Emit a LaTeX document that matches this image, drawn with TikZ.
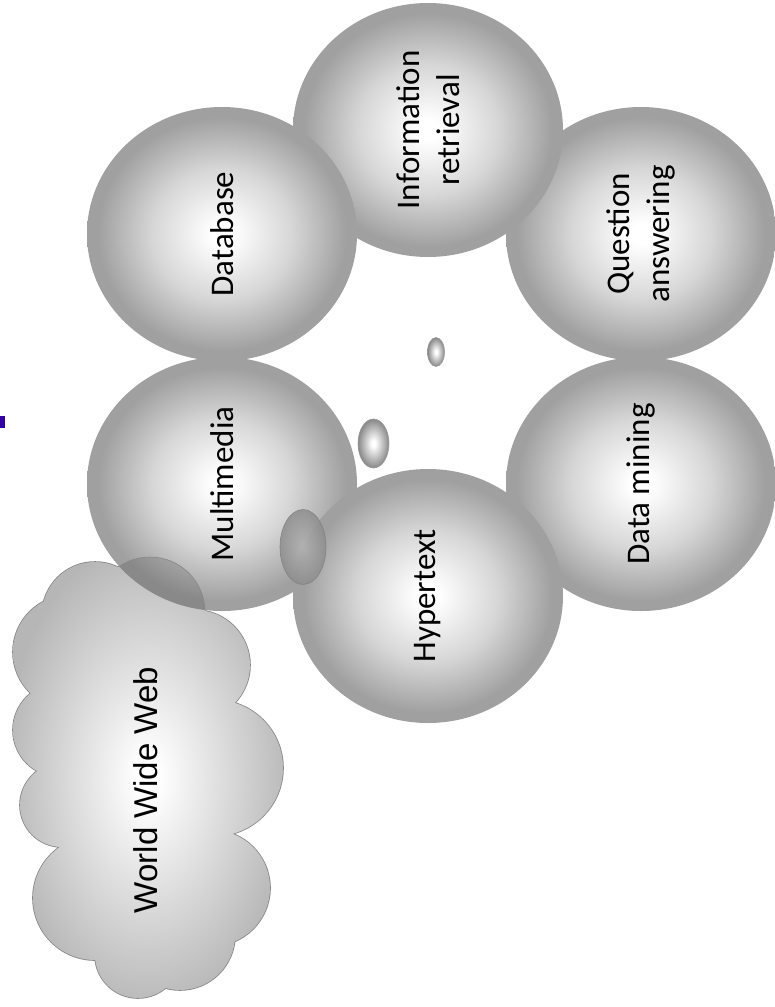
\documentclass[tikz,border=0pt]{standalone}
\usepackage{fontspec}
\setmainfont{Carlito}
\newfontfamily\wwwfont{Liberation Sans}
\usetikzlibrary{shapes.geometric}
\definecolor{ballgray}{RGB}{160,160,160}
\definecolor{ballmid}{RGB}{214,214,214}
\definecolor{cloudgray}{RGB}{182,182,182}
\definecolor{cloudline}{RGB}{135,135,135}
\definecolor{markblue}{RGB}{51,0,170}
\pgfdeclareradialshading{ball}{\pgfpoint{0bp}{0bp}}{color(0bp)=(white); color(2bp)=(white); color(13bp)=(ballmid); color(23bp)=(ballgray); color(50bp)=(ballgray)}
\pgfdeclareradialshading{bubble}{\pgfpoint{0bp}{0bp}}{color(0bp)=(white); color(3bp)=(white); color(25bp)=(ballgray!85!black); color(50bp)=(ballgray!85!black)}
\pgfdeclareradialshading{darkbubble}{\pgfpoint{0bp}{0bp}}{color(0bp)=(black!30); color(25bp)=(black!45); color(50bp)=(black!45)}
\pgfdeclareradialshading{cloudshade}{\pgfpoint{0bp}{0bp}}{color(0bp)=(white); color(2bp)=(white); color(27bp)=(cloudgray); color(50bp)=(cloudgray)}
\tikzset{
  ballnode/.style={ellipse, shading=ball, inner sep=0pt, rotate=90,
    minimum width=254pt, minimum height=270pt,
    font=\fontsize{33}{40}\selectfont, align=center},
  bubblenode/.style={ellipse, shading=bubble, draw=black!40, line width=0.6pt, inner sep=0pt},
  darkbubblenode/.style={ellipse, shading=darkbubble, draw=black!50, line width=0.6pt, inner sep=0pt, opacity=0.85},
  cloudedge/.style={draw=cloudline, line width=1.6pt},
  lensfill/.style={fill=black, fill opacity=0.14},
}
\begin{document}
\begin{tikzpicture}[x=1pt,y=-1pt]
\useasboundingbox[fill=white] (0,0) rectangle (774,1007);

% blue mark at the left edge
\node[fill=markblue, inner sep=0pt, minimum width=5pt, minimum height=12pt, anchor=north west] (mark) at (0,416) {};

% cloud: outline (outer half of thick strokes) then shaded union on top
\def\cloudcircles{(95,615) circle[radius=53] (150,612) circle[radius=55]
  (195,665) circle[radius=55] (215,768) circle[radius=68]
  (212,888) circle[radius=58] (180,935) circle[radius=55]
  (138,955) circle[radius=43] (95,898) circle[radius=62]
  (62,805) circle[radius=42] (60,730) circle[radius=47]
  (70,652) circle[radius=57] (140,700) circle[radius=80]
  (150,800) circle[radius=90] (140,880) circle[radius=70]}
\path[cloudedge] \cloudcircles;
\shade[shading=cloudshade] \cloudcircles;

% balls
\node[ballnode] (qa) at (641,234) {Question\\answering};
\node[ballnode] (ir) at (428,130) {Information\\retrieval};
\node[ballnode] (db) at (222,234) {Database};
\node[ballnode] (dm) at (641,484) {Data mining};
\node[ballnode] (mm) at (222,484) {Multimedia};
\node[ballnode] (ht) at (428,596) {Hypertext};

% darker lens where the cloud bump overlaps Multimedia
\begin{scope}
  \clip (222,484) ellipse[x radius=135, y radius=127];
  \fill[lensfill] (150,612) circle[radius=55];
  \draw[cloudline, line width=0.6pt] (150,612) circle[radius=55];
\end{scope}

% small bubbles
\node[bubblenode, minimum width=17pt, minimum height=29pt] (b1) at (436,352) {};
\node[bubblenode, minimum width=31pt, minimum height=49pt] (b2) at (373.5,443.5) {};
\node[darkbubblenode, minimum width=46pt, minimum height=75pt] (b3) at (303,547) {};

% cloud label
\node[rotate=90, font=\wwwfont\fontsize{33}{40}\selectfont] (www) at (146,790) {World Wide Web};
\end{tikzpicture}
\end{document}
